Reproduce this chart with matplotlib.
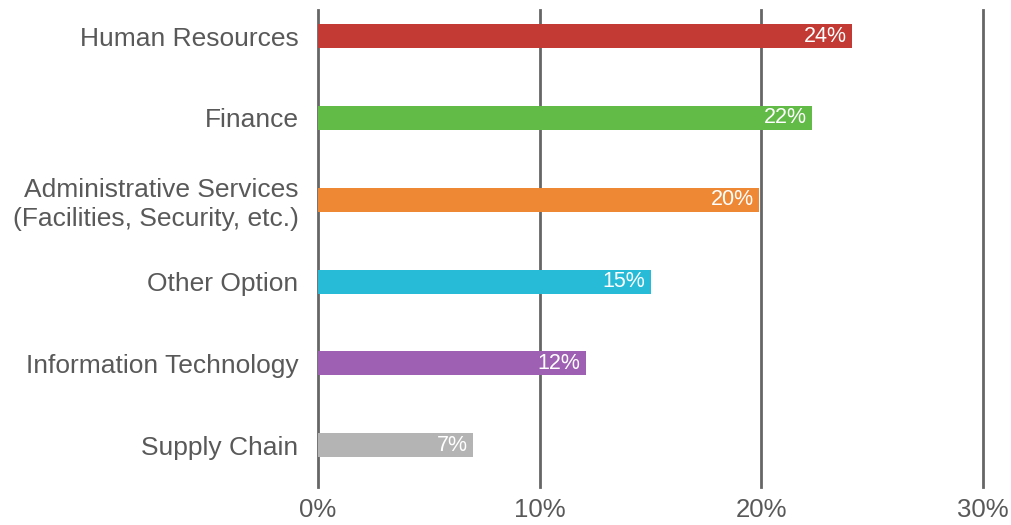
import matplotlib.pyplot as plt

# data
categories = ['Human Resources', 'Finance',
              'Administrative Services\n(Facilities, Security, etc.)',
              'Other Option', 'Information Technology', 'Supply Chain']
values = [24.1, 22.3, 19.9, 15.0, 12.1, 7.0]
labels = ['24%', '22%', '20%', '15%', '12%', '7%']
colors = ['#C23A33', '#62BA47', '#EE8834', '#27BBD8', '#9E60B2', '#B4B4B4']
xticks = [0, 10, 20, 30]

plt.rcParams['font.family'] = ['Liberation Sans', 'DejaVu Sans']

fig = plt.figure(figsize=(10.12, 5.25), dpi=100)
ax = fig.add_axes([318/1012, 1-487/525, (983-318)/1012, (487-10)/525])

ypos = list(range(len(categories)))

# gridlines behind the bars
for x in xticks:
    ax.axvline(x, color='#666666', lw=2, zorder=1, clip_on=False)

ax.barh(ypos, values, height=0.293, color=colors, zorder=2)

for y, v, lab in zip(ypos, values, labels):
    ax.text(v - 0.25, y, lab, ha='right', va='center', color='white',
            fontsize=15.5, zorder=3)

ax.set_xlim(0, 30)
ax.set_ylim(5.51, -0.318)
ax.set_yticks(ypos)
ax.set_yticklabels(categories, fontsize=19, color='#595959', linespacing=1.25)
ax.set_xticks(xticks)
ax.set_xticklabels([f'{x}%' for x in xticks], fontsize=18.5, color='#595959')
ax.tick_params(length=0, pad=14, axis='y')
ax.tick_params(length=0, pad=8, axis='x')
for s in ax.spines.values():
    s.set_visible(False)

fig.savefig('out.png', dpi=100)
